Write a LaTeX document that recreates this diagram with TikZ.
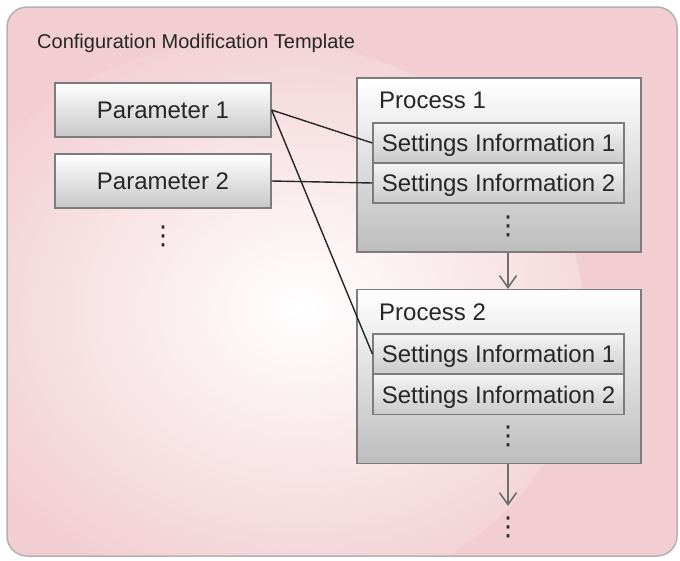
\documentclass[tikz,border=0pt]{standalone}
\usepackage{fontspec}
\setmainfont{Liberation Sans}
\newfontfamily\dotsfont{DejaVu Sans}
\usetikzlibrary{positioning, arrows.meta}

\definecolor{pinkbg}{HTML}{F2CED2}
\definecolor{boxline}{HTML}{7C7C7C}
\definecolor{txt}{HTML}{262626}
\definecolor{flowgray}{HTML}{6E6E6E}

\begin{document}
\begin{tikzpicture}[x=1pt, y=-1pt, node distance=2cm, on grid,
    >={Straight Barb[length=12pt, width=17pt]},
    param/.style={draw=boxline, line width=1.2pt, top color=white, bottom color=black!22,
        minimum width=216pt, minimum height=54pt, inner sep=0pt, text=txt,
        text height=17pt, text depth=0pt, font=\fontsize{24}{28}\selectfont},
    process/.style={draw=boxline, line width=1.2pt, top color=white, middle color=white!94!black,
        bottom color=black!26, minimum width=284pt, minimum height=174pt, inner sep=0pt},
    procname/.style={anchor=base west, inner sep=0pt, text=txt, font=\fontsize{24}{28}\selectfont},
    setting/.style={draw=boxline, line width=1.2pt, top color=white!96!black, bottom color=black!21,
        minimum width=251pt, minimum height=40pt, inner sep=0pt, text=txt,
        text height=17pt, text depth=0pt, font=\fontsize{24}{28}\selectfont},
    vdotsnode/.style={inner sep=0pt, text=txt, font=\dotsfont\fontsize{26}{26}\selectfont},
    link/.style={draw=black!85, line width=1.4pt},
    flow/.style={->, draw=flowgray, line width=1.6pt}]

    \useasboundingbox (0,0) rectangle (680,560);
    \path[draw=black!30, line width=1.5pt, fill=pinkbg, rounded corners=20pt,
        path picture={\shade[inner color=white, outer color=pinkbg] (255,325) ellipse (330 and 285);}]
        (7,7) rectangle (677,556);

    \node[anchor=base west, inner sep=0pt, text=txt, font=\fontsize{20}{24}\selectfont] (title)
        at (37,48) {Configuration Modification Template};

    \node[param] (par1) at (163,110) {Parameter 1};
    \node[param] (par2) [below=71pt of par1] {Parameter 2};
    \node[vdotsnode] (pardots) [below=55pt of par2] {⋮};

    \node[process] (proc1) at (499,165) {};
    \node[procname] (name1) at (379,108) {Process 1};
    \node[setting] (set11) at (498.5,143) {Settings Information 1};
    \node[setting] (set12) [below=40pt of set11] {Settings Information 2};
    \node[vdotsnode] (dots1) at (508,226) {⋮};

    \node[process] (proc2) [below=211.5pt of proc1] {};
    \node[procname] (name2) at (379,320) {Process 2};
    \node[setting] (set21) at (498.5,354) {Settings Information 1};
    \node[setting] (set22) [below=40.5pt of set21] {Settings Information 2};
    \node[vdotsnode] (dots2) at (508,436) {⋮};

    \coordinate (tail) at (508,506);
    \node[vdotsnode] (dots3) at (508,527) {⋮};

    \path[link]
        (par1.east) edge (set11.west)
                    edge (set21.west)
        (par2.east) edge (set12.west);
    \draw[flow] (dots1 |- proc1.south) -- (dots1 |- proc2.north);
    \draw[flow] (dots2 |- proc2.south) -- (tail);

\end{tikzpicture}
\end{document}
